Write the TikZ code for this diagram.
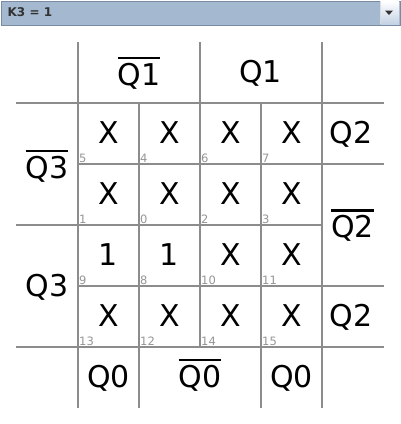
\documentclass[tikz,border=0pt]{standalone}
\usepackage{fontspec}
\setmainfont{DejaVu Sans}
\definecolor{gridgray}{RGB}{140,140,140}
\definecolor{idxgray}{RGB}{150,150,150}
\definecolor{barfill}{RGB}{164,184,207}
\definecolor{barline}{RGB}{122,140,163}
\definecolor{btnbot}{RGB}{196,210,228}
\definecolor{bartext}{RGB}{50,50,50}
\newcommand\ovl[1]{\leavevmode\vbox{\hrule height 2.7pt\kern 3.5pt\hbox{#1}}}
\begin{document}
\begin{tikzpicture}[x=1pt,y=-1pt,
  big/.style={font=\fontsize{30}{36}\selectfont, inner sep=0pt, anchor=base},
  idx/.style={font=\fontsize{11.5}{13}\selectfont, text=idxgray, inner sep=0pt, anchor=base west},
  gridline/.style={draw=gridgray, line width=1.6pt}]
\useasboundingbox (0,0) rectangle (400,424);
\fill[white] (0,0) rectangle (400,424);
% drop-down bar
\node[draw=barline, fill=barfill, line width=1pt, minimum width=399pt, minimum height=24pt, inner sep=0pt, anchor=north west] (bar) at (0.5,0.5) {};
\shade[top color=white, bottom color=btnbot] (380.5,1) rectangle (399,24);
\draw[draw=white!70!barline, line width=1pt] (380,1) -- (380,24);
\fill[black!80] (385,10.5) -- (393,10.5) -- (389,15) -- cycle;
\node[anchor=base west, font=\bfseries\fontsize{12}{14}\selectfont, text=bartext, inner sep=0pt] (k3) at (7.5,16.5) {K3 = 1};
% grid
\draw[gridline] (78,42) -- (78,408);
\draw[gridline] (139,103) -- (139,408);
\draw[gridline] (200,42) -- (200,347);
\draw[gridline] (261,103) -- (261,408);
\draw[gridline] (322,42) -- (322,408);
\draw[gridline] (16,103) -- (384,103);
\draw[gridline] (78,164) -- (384,164);
\draw[gridline] (16,225) -- (322,225);
\draw[gridline] (78,286) -- (384,286);
\draw[gridline] (16,347) -- (384,347);
% labels
\node[big] (q1n) at (139,85) {\ovl{Q1}};
\node[big] (q1) at (260.5,82.5) {Q1};
\node[big] (q3n) at (47,178) {\ovl{Q3}};
\node[big] (q3) at (47,296.5) {Q3};
\node[big] (q2a) at (351,143.5) {Q2};
\node[big] (q2n) at (352.5,237.5) {\ovl{Q2}};
\node[big] (q2b) at (351,326.5) {Q2};
\node[big] (q0a) at (108.5,387) {Q0};
\node[big] (q0n) at (200,387) {\ovl{Q0}};
\node[big] (q0b) at (291.5,387) {Q0};
% cells
\foreach \v/\i [count=\n from 0] in {X/5,X/4,X/6,X/7,X/1,X/0,X/2,X/3,1/9,1/8,X/10,X/11,X/13,X/12,X/14,X/15}{
  \pgfmathtruncatemacro\c{mod(\n,4)}
  \pgfmathtruncatemacro\r{div(\n,4)}
  \node[big] (v\n) at ({108.5+61*\c},{143.5+61*\r}) {\v};
  \node[idx] (i\n) at ({79+61*\c},{345.5-61*(3-\r)}) {\i};
}
\end{tikzpicture}
\end{document}
